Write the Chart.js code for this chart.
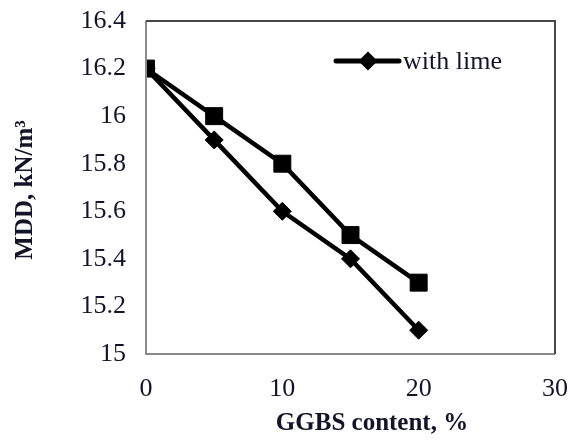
<!DOCTYPE html>
<html>
<head>
<meta charset="utf-8">
<title>MDD vs GGBS content</title>
<script src="https://cdn.jsdelivr.net/npm/chart.js@4/dist/chart.umd.min.js"></script>
<style>
  html, body { margin: 0; padding: 0; background: #fff; }
  #wrap { width: 570px; height: 441px; }
</style>
</head>
<body>
<div id="wrap"><canvas id="mddChart" width="570" height="441"></canvas></div>
<script>
// GGBS content (%) and maximum dry density (kN/m3)
const ggbsContent = [0, 5, 10, 15, 20];
const mddNoLime = [16.2, 16.0, 15.8, 15.5, 15.3];
const mddWithLime = [16.2, 15.9, 15.6, 15.4, 15.1];

const xTicks = [0, 10, 20, 30];
const yTicks = [15, 15.2, 15.4, 15.6, 15.8, 16, 16.2, 16.4];

const serif = "'Liberation Serif', 'Times New Roman', serif";
const textColor = "#141428";

function toPoints(values) {
    return ggbsContent.map((x, i) => ({ x: x, y: values[i] }));
}

// frame around the plot, axis titles and the single legend entry
const decorations = {
    id: "decorations",
    afterDatasetsDraw(chart) {
        const { ctx, chartArea: a } = chart;
        ctx.save();
        ctx.lineWidth = 2;
        ctx.strokeStyle = "#8a8a8a";
        ctx.beginPath();
        ctx.moveTo(a.left, a.top);
        ctx.lineTo(a.left, a.bottom);
        ctx.lineTo(a.right, a.bottom);
        ctx.stroke();
        ctx.strokeStyle = "#474747";
        ctx.beginPath();
        ctx.moveTo(a.left, a.top);
        ctx.lineTo(a.right, a.top);
        ctx.lineTo(a.right, a.bottom);
        ctx.stroke();

        // legend: line with diamond, then label
        ctx.strokeStyle = "#000";
        ctx.fillStyle = "#000";
        ctx.lineWidth = 5;
        ctx.lineCap = "round";
        ctx.beginPath();
        ctx.moveTo(336, 61);
        ctx.lineTo(399, 61);
        ctx.stroke();
        Chart.helpers.drawPoint(ctx, { pointStyle: "rectRot", radius: 6, borderWidth: 1 }, 368, 61);
        ctx.font = "26px " + serif;
        ctx.fillStyle = textColor;
        ctx.textAlign = "left";
        ctx.textBaseline = "middle";
        ctx.fillText("with lime", 403, 62);

        // axis titles
        ctx.font = "bold 25px " + serif;
        ctx.textAlign = "center";
        ctx.fillText("GGBS content, %", 372, 424);
        ctx.translate(26, 190);
        ctx.rotate(-Math.PI / 2);
        ctx.fillText("MDD, kN/m\u00B3", 0, 0);
        ctx.restore();
    }
};

new Chart(document.getElementById("mddChart"), {
    type: "line",
    data: {
        datasets: [
            {
                label: "without lime",
                data: toPoints(mddNoLime),
                borderColor: "#000",
                backgroundColor: "#000",
                borderWidth: 4.5,
                pointStyle: "rect",
                pointRadius: 12,
                pointBorderWidth: 1,
                tension: 0
            },
            {
                label: "with lime",
                data: toPoints(mddWithLime),
                borderColor: "#000",
                backgroundColor: "#000",
                borderWidth: 4.5,
                pointStyle: "rectRot",
                pointRadius: 9,
                pointBorderWidth: 1,
                tension: 0
            }
        ]
    },
    options: {
        responsive: false,
        animation: false,
        layout: { padding: { top: 21, right: 15, bottom: 0, left: 0 } },
        plugins: {
            legend: { display: false },
            tooltip: { enabled: false }
        },
        scales: {
            x: {
                type: "linear",
                min: 0,
                max: 30,
                afterBuildTicks: s => { s.ticks = xTicks.map(v => ({ value: v })); },
                afterFit: s => {
                    s.height = 87;
                    s.paddingLeft = 0;
                    s.paddingRight = 0;
                },
                grid: { display: false },
                border: { display: false },
                ticks: { padding: 12, color: textColor, font: { family: serif, size: 26 } }
            },
            y: {
                min: 15,
                max: 16.4,
                afterBuildTicks: s => { s.ticks = yTicks.map(v => ({ value: v })); },
                afterFit: s => {
                    s.width = 146;
                    s.paddingTop = 0;
                    s.paddingBottom = 0;
                },
                grid: { display: false },
                border: { display: false },
                ticks: {
                    padding: 12,
                    color: textColor,
                    font: { family: serif, size: 26 },
                    callback: v => String(v)
                }
            }
        }
    },
    plugins: [decorations]
});
</script>
</body>
</html>
